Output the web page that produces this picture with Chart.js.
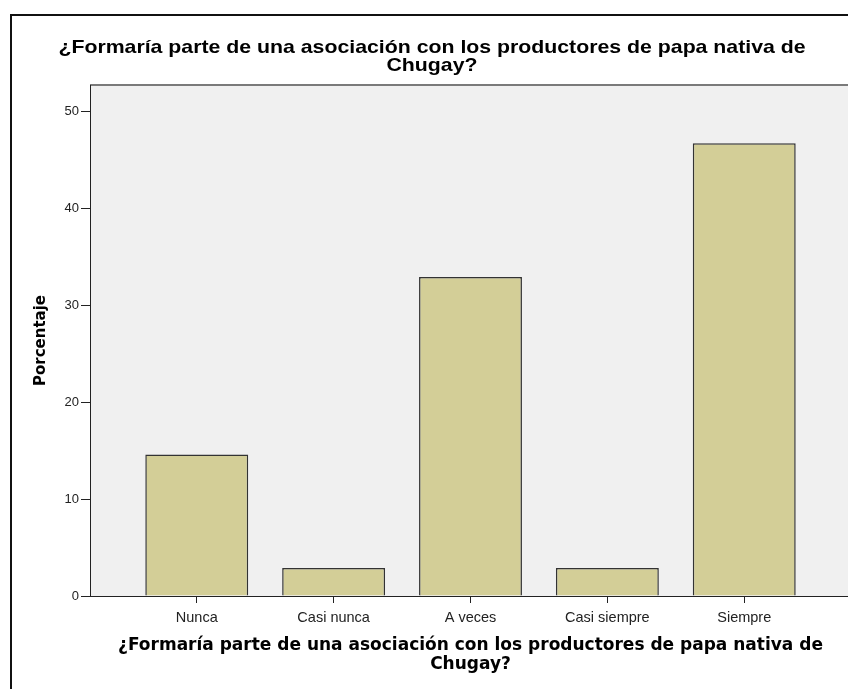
<!DOCTYPE html>
<html>
<head>
<meta charset="utf-8">
<script src="https://cdn.jsdelivr.net/npm/chart.js@4/dist/chart.umd.min.js"></script>
<style>
  body { margin: 0; background: #fff; overflow: hidden; }
  #wrap { position: relative; width: 848px; height: 689px; overflow: hidden; }
  #frame { position: absolute; left: 10px; top: 14px; width: 900px; height: 720px; border: 2px solid #111; box-sizing: border-box; }
  #chart { position: absolute; left: 0; top: 0; }
</style>
</head>
<body>
<div id="wrap">
  <canvas id="chart" width="860" height="689"></canvas>
  <div id="frame"></div>
</div>
<script>
const categories = ['Nunca', 'Casi nunca', 'A veces', 'Casi siempre', 'Siempre'];
const percentages = [14.6, 2.9, 32.9, 2.9, 46.7];
const yTickValues = [0, 10, 20, 30, 40, 50];
const questionText = ['¿Formaría parte de una asociación con los productores de papa nativa de', 'Chugay?'];
const yAxisLabel = 'Porcentaje';

// grey plot background + top edge, like the SPSS frame
const plotBackground = {
  id: 'plotBackground',
  beforeDraw(chart) {
    const { ctx, chartArea } = chart;
    ctx.save();
    ctx.fillStyle = '#f0f0f0';
    ctx.fillRect(chartArea.left, chartArea.top, chartArea.right - chartArea.left, chartArea.bottom - chartArea.top);
    ctx.strokeStyle = '#7a7a7a';
    ctx.lineWidth = 2;
    ctx.beginPath();
    ctx.moveTo(chartArea.left, chartArea.top);
    ctx.lineTo(chartArea.right, chartArea.top);
    ctx.stroke();
    ctx.restore();
  }
};

// SPSS title is a slightly widened Arial bold, so draw it by hand
const questionTitle = {
  id: 'questionTitle',
  afterDraw(chart) {
    const ctx = chart.ctx;
    const cx = 432;
    ctx.save();
    ctx.font = "bold 18.5px 'Liberation Sans', Arial, sans-serif";
    ctx.fillStyle = '#000';
    ctx.textAlign = 'center';
    ctx.textBaseline = 'alphabetic';
    questionText.forEach((line, i) => {
      ctx.save();
      ctx.translate(cx, 53 + i * 18);
      ctx.scale(1.15, 1);
      ctx.fillText(line, 0, 0);
      ctx.restore();
    });
    ctx.restore();
  }
};

const ctx = document.getElementById('chart').getContext('2d');

new Chart(ctx, {
  type: 'bar',
  data: {
    datasets: [{
      data: categories.map((c, i) => ({ x: i, y: percentages[i] })),
      backgroundColor: '#d3ce97',
      borderColor: '#333',
      borderWidth: 1.5,
      barPercentage: 0.752,
      categoryPercentage: 1
    }]
  },
  options: {
    responsive: false,
    animation: false,
    layout: { padding: { top: 85, left: 24, right: 9, bottom: 0 } },
    plugins: {
      legend: { display: false },
      tooltip: { enabled: false },
      title: { display: false }
    },
    scales: {
      x: {
        type: 'linear',
        offset: false,
        min: -0.78,
        max: 4.78,
        afterFit: (scale) => { scale.height = 93; },
        afterBuildTicks: (scale) => { scale.ticks = categories.map((c, i) => ({ value: i })); },
        ticks: {
          autoSkip: false,
          maxRotation: 0,
          padding: 6,
          color: '#222',
          font: { family: "'Liberation Sans', Arial, sans-serif", size: 14.5 },
          callback: (value) => categories[value]
        },
        grid: { offset: false, drawOnChartArea: false, drawTicks: true, tickLength: 7, tickColor: '#222' },
        border: { display: true, color: '#222', width: 1 },
        title: {
          display: true,
          text: questionText,
          color: '#000',
          font: { family: "'DejaVu Sans', sans-serif", size: 17, weight: 'bold', lineHeight: 1.1 },
          padding: { top: 0, bottom: 15 }
        }
      },
      y: {
        min: 0,
        max: 52.7,
        afterFit: (scale) => { scale.width = 66; },
        afterBuildTicks: (scale) => { scale.ticks = yTickValues.map(v => ({ value: v })); },
        ticks: {
          padding: 2,
          color: '#222',
          font: { family: "'Liberation Sans', Arial, sans-serif", size: 13 }
        },
        grid: { drawOnChartArea: false, drawTicks: true, tickLength: 9, tickColor: '#222' },
        border: { display: true, color: '#222', width: 1 },
        title: {
          display: true,
          text: yAxisLabel,
          color: '#000',
          font: { family: "'DejaVu Sans', sans-serif", size: 15, weight: 'bold', lineHeight: 1.2 },
          padding: { top: 8, bottom: 0 }
        }
      }
    }
  },
  plugins: [plotBackground, questionTitle]
});
</script>
</body>
</html>
